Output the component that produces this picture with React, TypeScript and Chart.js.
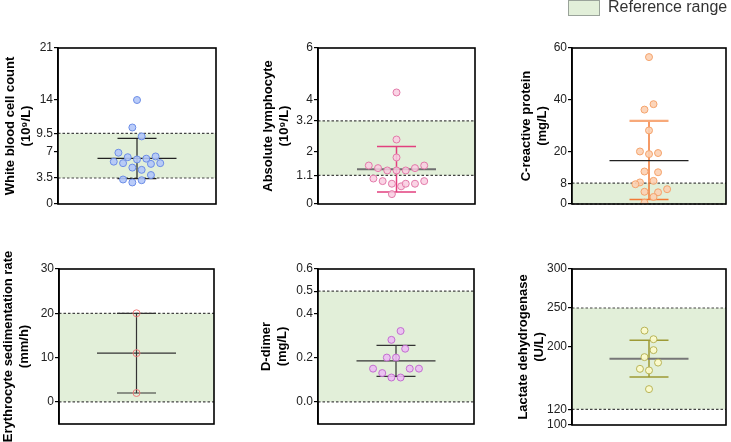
import React, { useEffect, useRef } from "react";
import { Chart, registerables } from "chart.js";

Chart.register(...registerables);

const PAGE_W = 731;
const PAGE_H = 442;
const FONT = "'Liberation Sans', Arial, Helvetica, sans-serif";

// ---------- Data ----------
// White blood cell count (10^9/L)
const wbcValues = [14.0, 10.3, 9.1, 6.9, 6.3, 6.0, 6.1, 6.4, 5.7, 5.5, 5.4, 5.5, 4.9, 4.6, 3.9, 3.3, 3.2, 2.9];
const wbcJitter = [0, -0.5, 0.5, -2, -1, 0, 1, 2, -2.5, -1.5, 1.5, 2.5, -0.5, 0.5, 1.5, -1.5, 0.5, -0.5];
const wbcSummary = [6.13, 3.42, 8.83]; // mean, lower SD, upper SD
const wbcRange = [3.5, 9.5];
const wbcTicks = [0, 3.5, 7, 9.5, 14, 21];
const wbcTickLabels = ["0", "3.5", "7", "9.5", "14", "21"];

// Absolute lymphocyte (10^9/L)
const lymValues = [4.29, 2.48, 1.79, 1.48, 1.38, 1.29, 1.29, 1.29, 1.38, 1.48, 0.98, 0.88, 0.78, 0.68, 0.78, 0.78, 0.88, 0.38];
const lymJitter = [0, 0, 0, -3, -2, -1, 0, 1, 2, 3, -2.5, -1.5, -0.5, 0.5, 1, 2, 3, -0.5];
const lymSummary = [1.34, 0.46, 2.21];
const lymRange = [1.1, 3.2];
const lymTicks = [0, 1.1, 2, 3.2, 4, 6];
const lymTickLabels = ["0", "1.1", "2", "3.2", "4", "6"];

// C-reactive protein (mg/L)
const crpValues = [56.5, 38.4, 36.3, 28.3, 20.2, 19.2, 19.6, 12.5, 12.2, 8.9, 8.3, 7.6, 4.7, 4.5, 5.7, 2.7, 0.5];
const crpJitter = [0, 0.5, -0.5, 0, -1, 0, 1, -0.5, 1, 0.5, -1, -1.5, -0.5, 1, 2, 0.5, -0.5];
const crpSummary = [16.7, 1.7, 32.0];
const crpRange = [0, 8];
const crpTicks = [0, 8, 20, 40, 60];
const crpTickLabels = ["0", "8", "20", "40", "60"];

// Erythrocyte sedimentation rate (mm/h)
const esrValues = [20, 11, 2];
const esrJitter = [0, 0, 0];
const esrSummary = [11, 2, 20];
const esrRange = [0, 20];
const esrTicks = [0, 10, 20, 30];
const esrTickLabels = ["0", "10", "20", "30"];

// D-dimer (mg/L)
const ddValues = [0.32, 0.28, 0.24, 0.2, 0.2, 0.15, 0.15, 0.15, 0.13, 0.11, 0.11];
const ddJitter = [0.5, -0.5, 1, -1, 0, -2.5, 1.5, 2.5, -1.5, -0.5, 0.5];
const ddSummary = [0.185, 0.115, 0.255];
const ddRange = [0, 0.5];
const ddTicks = [0, 0.2, 0.4, 0.5, 0.6];
const ddTickLabels = ["0.0", "0.2", "0.4", "0.5", "0.6"];

// Lactate dehydrogenase (U/L)
const ldhValues = [221, 210, 196, 187, 180, 172, 170, 146];
const ldhJitter = [-0.5, 0.5, 0.5, -0.5, 1, -1, 0, 0];
const ldhSummary = [185, 161.5, 208.5];
const ldhRange = [120, 250];
const ldhTicks = [100, 120, 200, 250, 300];
const ldhTickLabels = ["100", "120", "200", "250", "300"];

const legendLabel = "Reference range";

// ---------- Panel definitions ----------
type PanelDef = {
  key: string;
  title: string[];
  values: number[];
  jitter: number[];
  summary: number[];
  range: number[];
  ticks: number[];
  tickLabels: string[];
  yMin: number;
  yMax: number;
  area: { left: number; right: number; top: number; bottom: number };
  scaleLeft: number;
  fill: string;
  stroke: string;
  meanColor: string;
  meanWidth: number;
  sdColor: string;
  sdWidth: number;
  upperCapColor?: string;
  upperCapWidth?: number;
};

const panels: PanelDef[] = [
  {
    key: "wbc", title: ["White blood cell count", "(10\u2079/L)"],
    values: wbcValues, jitter: wbcJitter, summary: wbcSummary, range: wbcRange,
    ticks: wbcTicks, tickLabels: wbcTickLabels, yMin: 0, yMax: 21,
    area: { left: 58, right: 216, top: 48, bottom: 204 }, scaleLeft: 2,
    fill: "rgba(178,198,248,0.9)", stroke: "#6d8ee6",
    meanColor: "#222", meanWidth: 1.2, sdColor: "#222", sdWidth: 1.2,
  },
  {
    key: "lym", title: ["Absolute lymphocyte", "(10\u2079/L)"],
    values: lymValues, jitter: lymJitter, summary: lymSummary, range: lymRange,
    ticks: lymTicks, tickLabels: lymTickLabels, yMin: 0, yMax: 6,
    area: { left: 318, right: 475, top: 48, bottom: 204 }, scaleLeft: 260,
    fill: "rgba(249,205,224,0.85)", stroke: "#e27aa9",
    meanColor: "#6f6f6f", meanWidth: 2, sdColor: "#e2407f", sdWidth: 1.5,
  },
  {
    key: "crp", title: ["C-reactive protein", "(mg/L)"],
    values: crpValues, jitter: crpJitter, summary: crpSummary, range: crpRange,
    ticks: crpTicks, tickLabels: crpTickLabels, yMin: 0, yMax: 60,
    area: { left: 572, right: 728, top: 48, bottom: 204 }, scaleLeft: 518,
    fill: "rgba(252,208,178,0.9)", stroke: "#f4a36c",
    meanColor: "#222", meanWidth: 1.2, sdColor: "#f27a35", sdWidth: 1.5,
    upperCapColor: "#f7a97a", upperCapWidth: 2.2,
  },
  {
    key: "esr", title: ["Erythrocyte sedimentation rate", "(mm/h)"],
    values: esrValues, jitter: esrJitter, summary: esrSummary, range: esrRange,
    ticks: esrTicks, tickLabels: esrTickLabels, yMin: -5, yMax: 30,
    area: { left: 59, right: 214, top: 269, bottom: 424 }, scaleLeft: 0,
    fill: "rgba(255,255,255,0)", stroke: "#ef7b7b",
    meanColor: "#333", meanWidth: 1.2, sdColor: "#333", sdWidth: 1.2,
  },
  {
    key: "dd", title: ["D-dimer", "(mg/L)"],
    values: ddValues, jitter: ddJitter, summary: ddSummary, range: ddRange,
    ticks: ddTicks, tickLabels: ddTickLabels, yMin: -0.1, yMax: 0.6,
    area: { left: 318, right: 474, top: 269, bottom: 424 }, scaleLeft: 258,
    fill: "rgba(236,188,243,0.9)", stroke: "#c36ed0",
    meanColor: "#333", meanWidth: 1.2, sdColor: "#333", sdWidth: 1.2,
  },
  {
    key: "ldh", title: ["Lactate dehydrogenase", "(U/L)"],
    values: ldhValues, jitter: ldhJitter, summary: ldhSummary, range: ldhRange,
    ticks: ldhTicks, tickLabels: ldhTickLabels, yMin: 100, yMax: 300,
    area: { left: 572, right: 729, top: 269, bottom: 425 }, scaleLeft: 515,
    fill: "rgba(251,250,203,0.95)", stroke: "#b8b458",
    meanColor: "#777", meanWidth: 2, sdColor: "#9d9a35", sdWidth: 1.5,
  },
];

const BAND_FILL = "#e2efd9";
const MEAN_HALF = 39.5;
const CAP_HALF = 19.5;

function makeDecorPlugin(def: PanelDef) {
  return {
    id: "decor_" + def.key,
    beforeDatasetsDraw(chart: any) {
      const { ctx, chartArea, scales } = chart;
      const y = scales.y;
      const x = scales.x;
      const yLo = Math.min(y.getPixelForValue(def.range[0]), chartArea.bottom);
      const yHi = Math.max(y.getPixelForValue(def.range[1]), chartArea.top);
      ctx.save();
      // reference band
      ctx.fillStyle = BAND_FILL;
      ctx.fillRect(chartArea.left, yHi, chartArea.right - chartArea.left, yLo - yHi);
      // dashed borders of band
      ctx.strokeStyle = "#444";
      ctx.lineWidth = 1.2;
      ctx.setLineDash([2.5, 2]);
      [yLo, yHi].forEach((py) => {
        ctx.beginPath();
        ctx.moveTo(chartArea.left, py);
        ctx.lineTo(chartArea.right, py);
        ctx.stroke();
      });
      ctx.setLineDash([]);
      // mean and SD
      const cx = x.getPixelForValue(0);
      const pm = y.getPixelForValue(def.summary[0]);
      const pl = y.getPixelForValue(def.summary[1]);
      const pu = y.getPixelForValue(def.summary[2]);
      ctx.strokeStyle = def.sdColor;
      ctx.lineWidth = def.sdWidth;
      ctx.beginPath();
      ctx.moveTo(cx, pu);
      ctx.lineTo(cx, pl);
      ctx.moveTo(cx - CAP_HALF, pl);
      ctx.lineTo(cx + CAP_HALF, pl);
      ctx.stroke();
      ctx.strokeStyle = def.upperCapColor || def.sdColor;
      ctx.lineWidth = def.upperCapWidth || def.sdWidth;
      ctx.beginPath();
      ctx.moveTo(cx - CAP_HALF, pu);
      ctx.lineTo(cx + CAP_HALF, pu);
      ctx.stroke();
      ctx.strokeStyle = def.meanColor;
      ctx.lineWidth = def.meanWidth;
      ctx.beginPath();
      ctx.moveTo(cx - MEAN_HALF, pm);
      ctx.lineTo(cx + MEAN_HALF, pm);
      ctx.stroke();
      ctx.restore();
    },
    afterDraw(chart: any) {
      const { ctx, chartArea } = chart;
      ctx.save();
      ctx.strokeStyle = "#000";
      ctx.lineWidth = 1.6;
      ctx.strokeRect(chartArea.left, chartArea.top, chartArea.right - chartArea.left, chartArea.bottom - chartArea.top);
      ctx.restore();
    },
  };
}

function Panel({ def }: { def: PanelDef }) {
  const ref = useRef<HTMLCanvasElement>(null);
  useEffect(() => {
    const canvas = ref.current;
    if (!canvas) return;
    const chart = new Chart(canvas, {
      type: "scatter",
      data: {
        datasets: [
          {
            data: def.values.map((v, i) => ({ x: def.jitter[i], y: v })),
            pointRadius: 3.5,
            pointBackgroundColor: def.fill,
            pointBorderColor: def.stroke,
            pointBorderWidth: 1,
            showLine: false,
          },
        ],
      },
      options: {
        responsive: false,
        animation: false,
        devicePixelRatio: 1,
        events: [],
        layout: {
          padding: {
            left: def.scaleLeft,
            top: def.area.top,
            right: PAGE_W - def.area.right,
            bottom: PAGE_H - def.area.bottom,
          },
        },
        plugins: { legend: { display: false }, tooltip: { enabled: false }, title: { display: false } },
        scales: {
          x: { type: "linear", display: false, min: -8.5, max: 8.5 },
          y: {
            type: "linear",
            min: def.yMin,
            max: def.yMax,
            afterFit: (s: any) => {
              s.width = def.area.left - def.scaleLeft;
            },
            afterBuildTicks: (s: any) => {
              s.ticks = def.ticks.map((v) => ({ value: v }));
            },
            ticks: {
              autoSkip: false,
              padding: 1,
              color: "#222",
              font: { family: FONT, size: 12 },
              callback: (_v: any, i: number) => def.tickLabels[i],
            },
            grid: { drawOnChartArea: false, drawTicks: true, tickLength: 4, color: "#000", lineWidth: 1.2 },
            border: { display: true, color: "#000", width: 1.6 },
            title: {
              display: true,
              text: def.title,
              color: "#000",
              padding: 0,
              font: { family: FONT, size: 13, weight: "bold", lineHeight: 16 / 13 },
            },
          },
        },
      } as any,
      plugins: [makeDecorPlugin(def)],
    });
    return () => chart.destroy();
  }, [def]);
  return (
    <canvas
      ref={ref}
      width={PAGE_W}
      height={PAGE_H}
      style={{ position: "absolute", left: 0, top: 0, width: PAGE_W, height: PAGE_H }}
    />
  );
}

export default function App() {
  return (
    <div
      style={{
        position: "fixed",
        left: 0,
        top: 0,
        width: PAGE_W,
        height: PAGE_H,
        background: "#fff",
        overflow: "hidden",
      }}
    >
      {panels.map((p) => (
        <Panel key={p.key} def={p} />
      ))}
      <div
        style={{
          position: "absolute",
          left: 568,
          top: 0,
          width: 30,
          height: 14,
          background: BAND_FILL,
          border: "1px solid #9aa39a",
        }}
      />
      <div
        style={{
          position: "absolute",
          left: 608,
          top: -2,
          fontFamily: FONT,
          fontSize: 16,
          color: "#333",
          whiteSpace: "nowrap",
        }}
      >
        {legendLabel}
      </div>
    </div>
  );
}
